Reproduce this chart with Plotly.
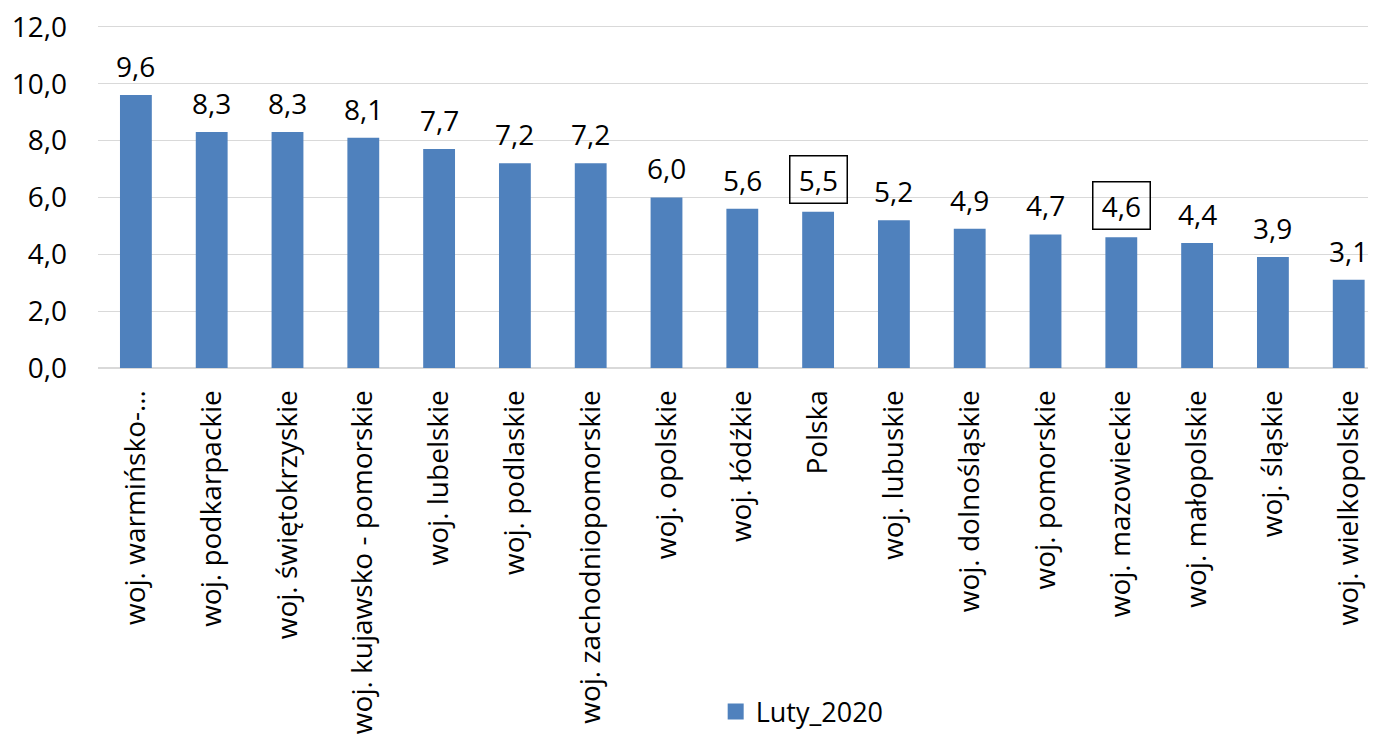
import plotly.graph_objects as go

categories = ["woj. warmińsko-…", "woj. podkarpackie", "woj. świętokrzyskie",
              "woj. kujawsko - pomorskie", "woj. lubelskie", "woj. podlaskie",
              "woj. zachodniopomorskie", "woj. opolskie", "woj. łódźkie", "Polska",
              "woj. lubuskie", "woj. dolnośląskie", "woj. pomorskie", "woj. mazowieckie",
              "woj. małopolskie", "woj. śląskie", "woj. wielkopolskie"]
values = [9.6, 8.3, 8.3, 8.1, 7.7, 7.2, 7.2, 6.0, 5.6, 5.5, 5.2, 4.9, 4.7, 4.6, 4.4, 3.9, 3.1]
boxed = ["Polska", "woj. mazowieckie"]
series_name = "Luty_2020"

FONT = "Open Sans"
COLOR = "#4F81BD"
fig = go.Figure()
fig.add_trace(go.Bar(x=list(range(len(categories))), y=values, name=series_name,
                     marker=dict(color=COLOR, line=dict(width=0)), width=0.42,
                     showlegend=False))
# legend entry with a larger square symbol
fig.add_trace(go.Scatter(x=[None], y=[None], mode="markers", name=series_name,
                         marker=dict(symbol="square", size=17, color=COLOR),
                         showlegend=True))

annotations = []
for i, (c, v) in enumerate(zip(categories, values)):
    is_box = c in boxed
    ann = dict(
        x=i, y=v, xref="x", yref="y", text=f"{v:.1f}".replace(".", ","),
        showarrow=False, yanchor="middle", xanchor="center",
        yshift=32 if is_box else 29,
        font=dict(family=FONT, size=28, color="black"),
    )
    if is_box:
        ann.update(bordercolor="black", borderwidth=1.5, borderpad=3, width=50, height=40)
    annotations.append(ann)

fig.update_layout(
    width=1368, height=727,
    margin=dict(l=90, r=0, t=16, b=367, autoexpand=False),
    plot_bgcolor="white", paper_bgcolor="white",
    separators=", ",
    font=dict(family=FONT, size=28, color="black"),
    annotations=annotations,
    showlegend=True,
    legend=dict(orientation="h", x=0.551, xanchor="center", y=-1.0, yanchor="middle",
                font=dict(family=FONT, size=27, color="black"), itemwidth=30,
                bgcolor="rgba(0,0,0,0)"),
)
fig.update_xaxes(
    range=[-0.5, 16.36], tickmode="array", tickvals=list(range(len(categories))),
    ticktext=categories, tickangle=-90, showgrid=False, showline=True,
    linecolor="#D9D9D9", linewidth=1, ticks="", ticklabelstandoff=10, automargin=False,
    tickfont=dict(family=FONT, size=28, color="black"), zeroline=False,
    ticklabeloverflow="allow",
)
fig.update_yaxes(
    range=[0, 12.1], tickmode="array", tickvals=[0, 2, 4, 6, 8, 10, 12],
    tickformat=".1f", showgrid=True, gridcolor="#D9D9D9",
    gridwidth=1, zeroline=True, zerolinecolor="#D9D9D9", showline=False, automargin=False,
    ticks="", ticklabelstandoff=30, tickfont=dict(family=FONT, size=28, color="black"),
    ticklabeloverflow="allow",
)
fig.write_html("out.html")
